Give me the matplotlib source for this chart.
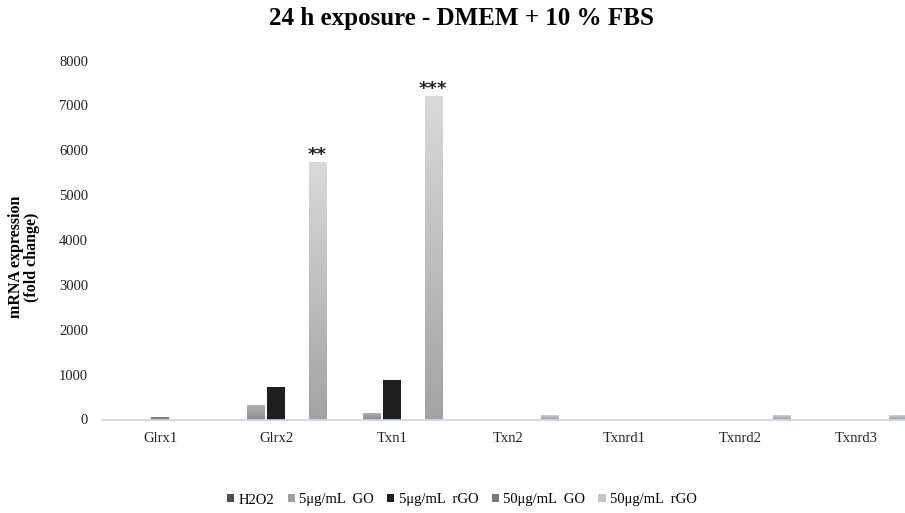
import matplotlib
matplotlib.use("Agg")
import matplotlib.pyplot as plt
import numpy as np
from matplotlib.patches import Patch

plt.rcParams['font.family'] = ['Liberation Serif', 'DejaVu Serif']

categories = ["Glrx1", "Glrx2", "Txn1", "Txn2", "Txnrd1", "Txnrd2", "Txnrd3"]
series_names = ["H2O2", "5\u03bcg/mL  GO", "5\u03bcg/mL  rGO", "50\u03bcg/mL  GO", "50\u03bcg/mL  rGO"]
h2o2 = [0, 0, 0, 0, 0, 0, 0]
go5 = [0, 330, 150, 0, 0, 0, 0]
rgo5 = [45, 730, 875, 0, 0, 0, 0]
go50 = [0, 0, 0, 0, 0, 0, 0]
rgo50 = [0, 5730, 7200, 110, 0, 100, 110]
values = [h2o2, go5, rgo5, go50, rgo50]
annotations = {1: "**", 2: "***"}

W, H = 905, 513
fig = plt.figure(figsize=(W / 100, H / 100), dpi=100)
left, right = 102, 905
bottom, top = 513 - 419.5, 513 - 60.5
ax = fig.add_axes([left / W, bottom / H, (right - left) / W, (top - bottom) / H])

colors = ["#4f4f4f", "#a0a0a0", "#1e1e1e", "#7a7a7a", "#c4c4c4"]
grad = {1: ("#b5b5b5", "#8e8e8e"), 4: ("#dadada", "#a3a3a3")}

x = np.arange(len(categories))
slot = 0.178
bw = 0.147
for i, vals in enumerate(values):
    xs = x + (i - 2) * slot
    cols = [colors[i]] * len(vals)
    if i == 2:
        cols[0] = "#7f7f7f"
    bars = ax.bar(xs, vals, width=bw, color=cols, zorder=2)
    if i in grad:
        c_top, c_bot = grad[i]
        cmap = matplotlib.colors.LinearSegmentedColormap.from_list("g", [c_bot, c_top])
        for b in bars:
            h = b.get_height()
            if h <= 0:
                continue
            x0 = b.get_x()
            im = ax.imshow(np.linspace(0, 1, 256).reshape(-1, 1), cmap=cmap, origin="lower",
                           extent=[x0, x0 + b.get_width(), 0, h], aspect="auto", zorder=3)
            im.set_clip_path(b)

for idx, txt in annotations.items():
    ax.annotate(txt, (x[idx] + 2 * slot, rgo50[idx]), xytext=(0, 1.5),
                textcoords="offset points", ha="center", va="baseline",
                fontsize=13, fontweight="bold", color="#222222", family="DejaVu Sans")

ax.set_xlim(-0.5, -0.5 + (right - left) / 116.0)
ax.set_ylim(0, 8000)
ax.set_yticks(np.arange(0, 8001, 1000))
ax.set_xticks(x)
ax.set_xticklabels(categories)
ax.tick_params(axis="both", length=0, labelsize=10.5, colors="#222222")
ax.tick_params(axis="x", pad=9)
ax.tick_params(axis="y", pad=10)
for s in ["top", "right", "left"]:
    ax.spines[s].set_visible(False)
ax.spines["bottom"].set_color("#c5d5ea")
ax.spines["bottom"].set_linewidth(1.2)
ax.spines["bottom"].set_zorder(4)

fig.text(461 / W, 1 - 19 / H, "24 h exposure - DMEM + 10 % FBS", ha="center", va="center",
         fontsize=18, fontweight="bold")
fig.text(24 / W, 1 - 257 / H, "mRNA expression\n(fold change)", ha="center", va="center",
         rotation=90, fontsize=11.5, fontweight="bold", linespacing=1.0)

handles = [Patch(facecolor=c) for c in colors]
fig.legend(handles, series_names, loc="center", bbox_to_anchor=(462 / W, 1 - 500 / H),
           ncol=5, frameon=False, fontsize=10.5, handlelength=0.5, handleheight=0.5,
           handletextpad=0.3, columnspacing=0.9)

fig.savefig("out.png", dpi=100)
